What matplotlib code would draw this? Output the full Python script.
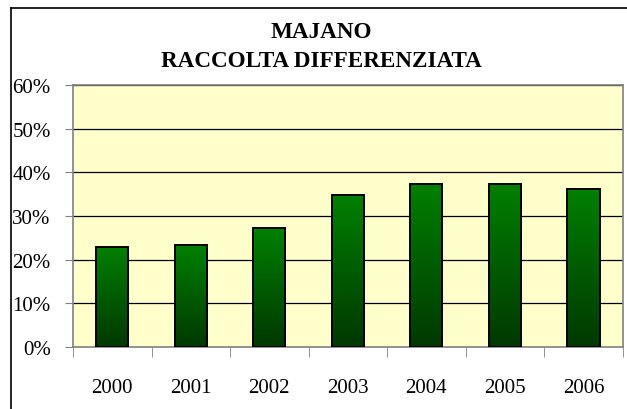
import numpy as np
import matplotlib
matplotlib.use('Agg')
import matplotlib.pyplot as plt
from matplotlib.colors import LinearSegmentedColormap
from matplotlib.lines import Line2D

years = ['2000', '2001', '2002', '2003', '2004', '2005', '2006']
values = [23.0, 23.3, 27.2, 34.8, 37.3, 37.3, 36.2]
y_ticks = [0, 10, 20, 30, 40, 50, 60]
title = 'MAJANO\nRACCOLTA DIFFERENZIATA'

plt.rcParams['font.family'] = ['Liberation Serif', 'DejaVu Serif']

fig = plt.figure(figsize=(6.27, 4.10), dpi=100)
ax = fig.add_axes([73 / 627, 1 - 348 / 410, (622.7 - 73) / 627, (348 - 86) / 410])
ax.set_facecolor('#ffffcc')

# outer chart border (only left and top visible)
fig.add_artist(Line2D([11 / 627, 11 / 627], [0, 1 - 9 / 410], color='black', lw=1.2))
fig.add_artist(Line2D([11 / 627, 1], [1 - 9 / 410, 1 - 9 / 410], color='black', lw=1.2))

x = np.arange(len(years))
width = 0.41

for t in y_ticks[1:]:
    ax.axhline(t, color='black', lw=0.9, zorder=1)

cmap = LinearSegmentedColormap.from_list('g', ['#003800', '#008000'])
grad = np.linspace(0, 1, 256).reshape(-1, 1)
bars = ax.bar(x, values, width, color='none', edgecolor='black', lw=1.4, zorder=3)
for b in bars:
    x0, y0 = b.get_x(), b.get_y()
    im = ax.imshow(grad, cmap=cmap, origin='lower', aspect='auto', zorder=2,
                   extent=[x0, x0 + b.get_width(), y0, y0 + b.get_height()])
    im.set_clip_path(b)
ax.set_xlim(-0.5, len(years) - 0.5)
ax.set_ylim(0, 60)

ax.set_yticks(y_ticks)
ax.set_yticklabels([f'{t}%' for t in y_ticks])
ax.tick_params(axis='y', length=6, color='#808080', pad=10, labelsize=15)

ax.set_xticks(x)
ax.set_xticklabels(years)
ax.tick_params(axis='x', which='major', length=0, pad=22, labelsize=15)
ax.set_xticks(np.arange(-0.5, len(years)), minor=True)
ax.tick_params(axis='x', which='minor', length=7, color='#808080', direction='out')

for s in ax.spines.values():
    s.set_color('#808080')
    s.set_linewidth(1.2)

fig.text(321.5 / 627, 1 - 47 / 410, title, ha='center', va='center',
         fontsize=16.7, fontweight='bold', linespacing=1.45)

fig.savefig('out.png', dpi=100)
